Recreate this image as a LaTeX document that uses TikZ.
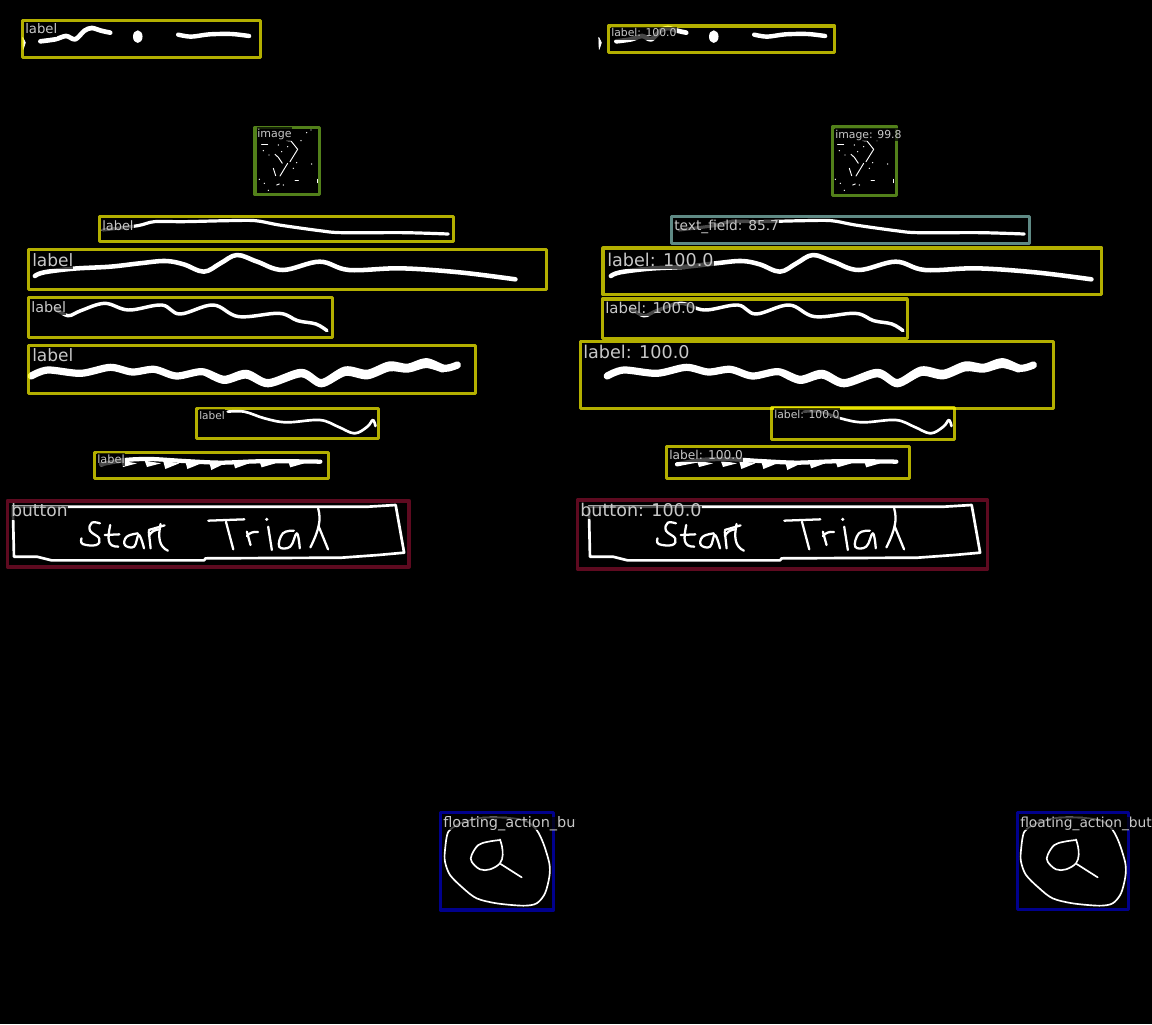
\documentclass[tikz,border=0pt]{standalone}
\usepackage{fontspec}
\setmainfont{DejaVu Sans}
\definecolor{ylw}{RGB}{255,250,0}
\definecolor{grn}{RGB}{82,128,26}
\definecolor{tfd}{RGB}{95,138,133}
\definecolor{btn}{RGB}{94,10,32}
\definecolor{fab}{RGB}{0,0,140}
\definecolor{txt}{RGB}{200,200,200}
\tikzset{
  px/.style={x=0.75pt,y=-0.75pt},
  zoomA/.style={x=0.27553pt,y=-0.25pt},
  zoomC/.style={x=0.25pt,y=-0.25pt},
  ink/.style={draw=white,line cap=round,line join=round},
  boxy/.style={line width=2.6pt,line join=round},
  lblbox/.style={boxy,draw=ylw,draw opacity=0.7},
  imgbox/.style={boxy,draw=grn},
  tfbox/.style={boxy,draw=tfd},
  btnbox/.style={boxy,draw=btn},
  fabbox/.style={boxy,draw=fab},
  tag/.style={anchor=base west,inner sep=0pt,text=txt,fill=black,fill opacity=0.72,text opacity=1,text height=.78em,text depth=.22em},
}
\newcommand\tagat[5]{\node[tag,font=\fontsize{#4pt}{#4pt}\selectfont] (#1) at (#2,#3) {#5};}
\newcommand\inkA{%
  \begin{scope}[zoomA]
    \filldraw[ink,line width=.5pt,fill=white] (62,112) -- (69,128) -- (63,148) -- cycle;
    \draw[ink,line width=3.5pt] plot[smooth,tension=.5] coordinates {(110,124)(150,118)(180,108)(205,118)(230,92)(250,84)(275,92)(300,98)};
    \fill[white] (375,110) ellipse [x radius=13,y radius=19];
    \draw[ink,line width=3.3pt] plot[smooth,tension=.5] coordinates {(485,104)(520,110)(570,103)(630,102)(678,108)};
    \draw[ink,line width=2.4pt] plot[smooth,tension=.5] coordinates {(280,690)(375,677)(420,665)(500,665)(620,662)(695,662)(760,675)(870,692)(930,698)(1100,698)(1220,702)};
    \draw[ink,line width=3.4pt] plot[smooth,tension=.6] coordinates {(95,828)(120,817)(200,806)(300,800)(380,790)(450,783)(500,793)(555,815)(600,790)(645,765)(700,785)(770,810)(870,785)(950,810)(1090,805)(1250,817)(1403,838)};
  \end{scope}
}
\newcommand\inkB{%
  \begin{scope}[shift={(0,290)},zoomA]
    \draw[ink,line width=2.6pt] plot[smooth,tension=.6] coordinates {(150,55)(185,77)(220,62)(285,40)(350,60)(440,45)(490,72)(580,45)(650,80)(760,70)(810,92)(860,102)(890,122)};
    \draw[ink,line width=5.4pt] plot[smooth,tension=.5] coordinates {(85,258)(130,240)(220,250)(300,232)(360,246)(420,238)(480,258)(550,245)(610,268)(670,250)(730,278)(820,247)(875,278)(940,240)(1000,250)(1060,225)(1110,232)(1160,215)(1210,235)(1245,225)};
    \draw[ink,line width=4pt] plot[smooth,tension=.5] coordinates {(560,250)(610,274)(670,258)(730,284)(820,254)(875,284)(940,250)(1000,260)(1060,236)(1110,240)(1160,226)(1205,240)};
    \draw[ink,line width=2pt] plot[smooth,tension=.6] coordinates {(620,365)(665,365)(720,385)(780,397)(870,390)(920,410)(965,430)(1000,410)(1015,390)(1022,408)};
    \draw[ink,line width=3.2pt] plot[smooth,tension=.5] coordinates {(275,523)(340,510)(410,507)(500,513)(600,518)(700,514)(800,514)(872,515)};
    \foreach \tx/\ty in {335/531,400/531,450/537,510/537,575/540,640/535,712/532,790/532}
      \fill[white] (\tx,\ty) -- (\tx+38,520) -- (\tx-6,512) -- cycle;
    \draw[ink,line width=2pt] (35,650) -- (1003,650) -- (1077,645) -- (1100,788) -- (1030,795) -- (930,803) -- (560,805) -- (555,811) -- (140,811) -- (100,800) -- (38,800) -- cycle;
    \begin{scope}[ink,line width=1.7pt]
      \draw plot[smooth,tension=.7] coordinates {(272,700)(250,698)(245,722)(270,745)(262,765)(225,762)(222,745)};
      \draw (300,705) .. controls (292,750) and (292,770) .. (322,770);
      \draw (285,735) -- (325,733);
      \draw plot[smooth,tension=.7] coordinates {(375,730)(345,740)(340,765)(365,770)(378,735)(392,775)};
      \draw (405,725) -- (410,775);
      \draw (405,738) .. controls (412,725) and (420,720) .. (432,718);
      \draw (437,702) .. controls (430,740) and (432,770) .. (457,782);
      \draw (405,720) -- (448,706);
      \draw (567,692) -- (665,688);
      \draw (615,695) -- (635,778);
      \draw (672,725) -- (682,765);
      \draw (672,738) .. controls (680,728) and (690,724) .. (702,726);
      \draw (730,710) -- (740,780);
      \fill[white] (726,688) circle [radius=5];
      \draw plot[smooth,tension=.7] coordinates {(800,722)(770,730)(760,770)(790,770)(808,730)(816,775)};
      \draw (866,655) .. controls (875,690) and (868,720) .. (845,772);
      \draw (867,708) -- (893,778);
    \end{scope}
  \end{scope}
}
\newcommand\inkImg{%
  \begin{scope}[shift={(245,120)},zoomC]
    \begin{scope}[ink,line width=.7pt]
      \draw (50,72) -- (68,72);
      \draw (125,62) -- (138,63) -- (158,88) -- (135,125);
      \draw (128,130) -- (105,168);
      \draw (90,103) -- (100,112) -- (112,130);
      \draw (85,145) -- (92,167);
      \draw (150,182) -- (160,182);
      \draw (218,178) -- (218,188);
      \draw (95,195) -- (103,192);
      \foreach \dx/\dy in {185/38,198/30,168/62,200/132,43/178,58/190,70/211,115/195,55/92,72/105,145/145,155/128,110/95,100/75,128/80}
        \fill[white] (\dx,\dy) circle [radius=2.2];
    \end{scope}
  \end{scope}
}
\newcommand\inkFab{%
  \begin{scope}[ink,line width=1.25pt]
    \draw plot[smooth,tension=.5] coordinates {(90,70)(55,95)(45,150)(45,185)(60,225)(100,265)(140,295)(200,310)(280,317)(320,310)(345,280)(358,230)(358,190)(340,130)(320,90)(290,64)(240,54)(150,54)(90,70)};
    \draw plot[smooth,tension=.6] coordinates {(210,118)(216,140)(218,165)(210,190)(180,208)(150,208)(125,185)(125,165)(145,135)(175,125)(210,120)};
    \draw (212,192) -- (275,232);
  \end{scope}
}
\begin{document}
\begin{tikzpicture}[px]
  \useasboundingbox (0,0) rectangle (1152,1024);
  \fill[black] (0,0) rectangle (1152,1024);
  % left panel
  \begin{scope}
    \clip (0,0) rectangle (575.5,1024);
    \inkA \inkB \inkImg
    \begin{scope}[shift={(430,800)},zoomC] \inkFab \end{scope}
    \draw[lblbox] (22.7,20.5) rectangle (260.5,57.5);
    \draw[imgbox] (254.8,127.5) rectangle (319.7,194.5);
    \draw[lblbox] (99.5,216.5) rectangle (453.5,241.5);
    \draw[lblbox] (28.3,249.5) rectangle (546.5,289.5);
    \draw[lblbox] (28.3,297.5) rectangle (332.5,337.5);
    \draw[lblbox] (28.3,345.5) rectangle (475.3,393.5);
    \draw[lblbox] (196.5,408.5) rectangle (378.5,438.5);
    \draw[lblbox] (94.5,452.5) rectangle (328.5,478.5);
    \draw[btnbox] (7.4,500.8) rectangle (409.2,566.8);
    \draw[fabbox] (440.5,812.5) rectangle (553.5,910);
    \tagat{la}{25}{34}{9.9}{label}
    \tagat{lb}{257}{137.7}{8.25}{image}
    \tagat{lc}{102}{230.7}{9.7}{label}
    \tagat{ld}{32}{266}{12.75}{label}
    \tagat{le}{31}{312.3}{10.8}{label}
    \tagat{lf}{32}{361.7}{12.75}{label}
    \tagat{lg}{199}{419}{7.9}{label}
    \tagat{lh}{97}{463.3}{8.55}{label}
    \tagat{li}{11}{516.7}{12.8}{button}
    \tagat{lj}{443}{827.3}{10.85}{floating\_action\_button}
  \end{scope}
  % right panel
  \begin{scope}
    \clip (576,0) rectangle (1152,1024);
    \begin{scope}[shift={(576,0)}] \inkA \inkB \inkImg \end{scope}
    \begin{scope}[shift={(1006,800)},zoomC] \inkFab \end{scope}
    \draw[lblbox] (608.4,26.2) rectangle (834.5,52.5);
    \draw[imgbox] (832.5,127.2) rectangle (896.7,195.5);
    \draw[tfbox] (671.5,216.5) rectangle (1029.7,243.5);
    \draw[lblbox] (603.2,248.2) rectangle (1101.7,294.5);
    \draw[lblbox] (602.5,298.8) rectangle (907.3,338.5);
    \draw[lblbox] (580.5,341.5) rectangle (1053.5,408.5);
    \draw[lblbox] (771.5,407.5) rectangle (954.5,439.5);
    \draw[lblbox] (666.5,446.5) rectangle (909.5,478.5);
    \draw[btnbox] (577.5,499.8) rectangle (987.5,569.2);
    \draw[fabbox] (1017.5,812.5) rectangle (1128.5,909.5);
    \tagat{ra}{611}{37}{8.1}{label: 100.0}
    \tagat{rb}{835}{138.5}{8.15}{image: 99.8}
    \tagat{rc}{674}{230.7}{10.3}{text\_field: 85.7}
    \tagat{rd}{607}{266}{13.2}{label: 100.0}
    \tagat{re}{605}{313}{11.2}{label: 100.0}
    \tagat{rf}{583}{358}{13.2}{label: 100.0}
    \tagat{rg}{774}{418}{8.1}{label: 100.0}
    \tagat{rh}{669}{459}{9.15}{label: 100.0}
    \tagat{ri}{580}{516}{13.15}{button: 100.0}
    \tagat{rj}{1020}{827.3}{10.35}{floating\_action\_button}
  \end{scope}
\end{tikzpicture}
\end{document}
